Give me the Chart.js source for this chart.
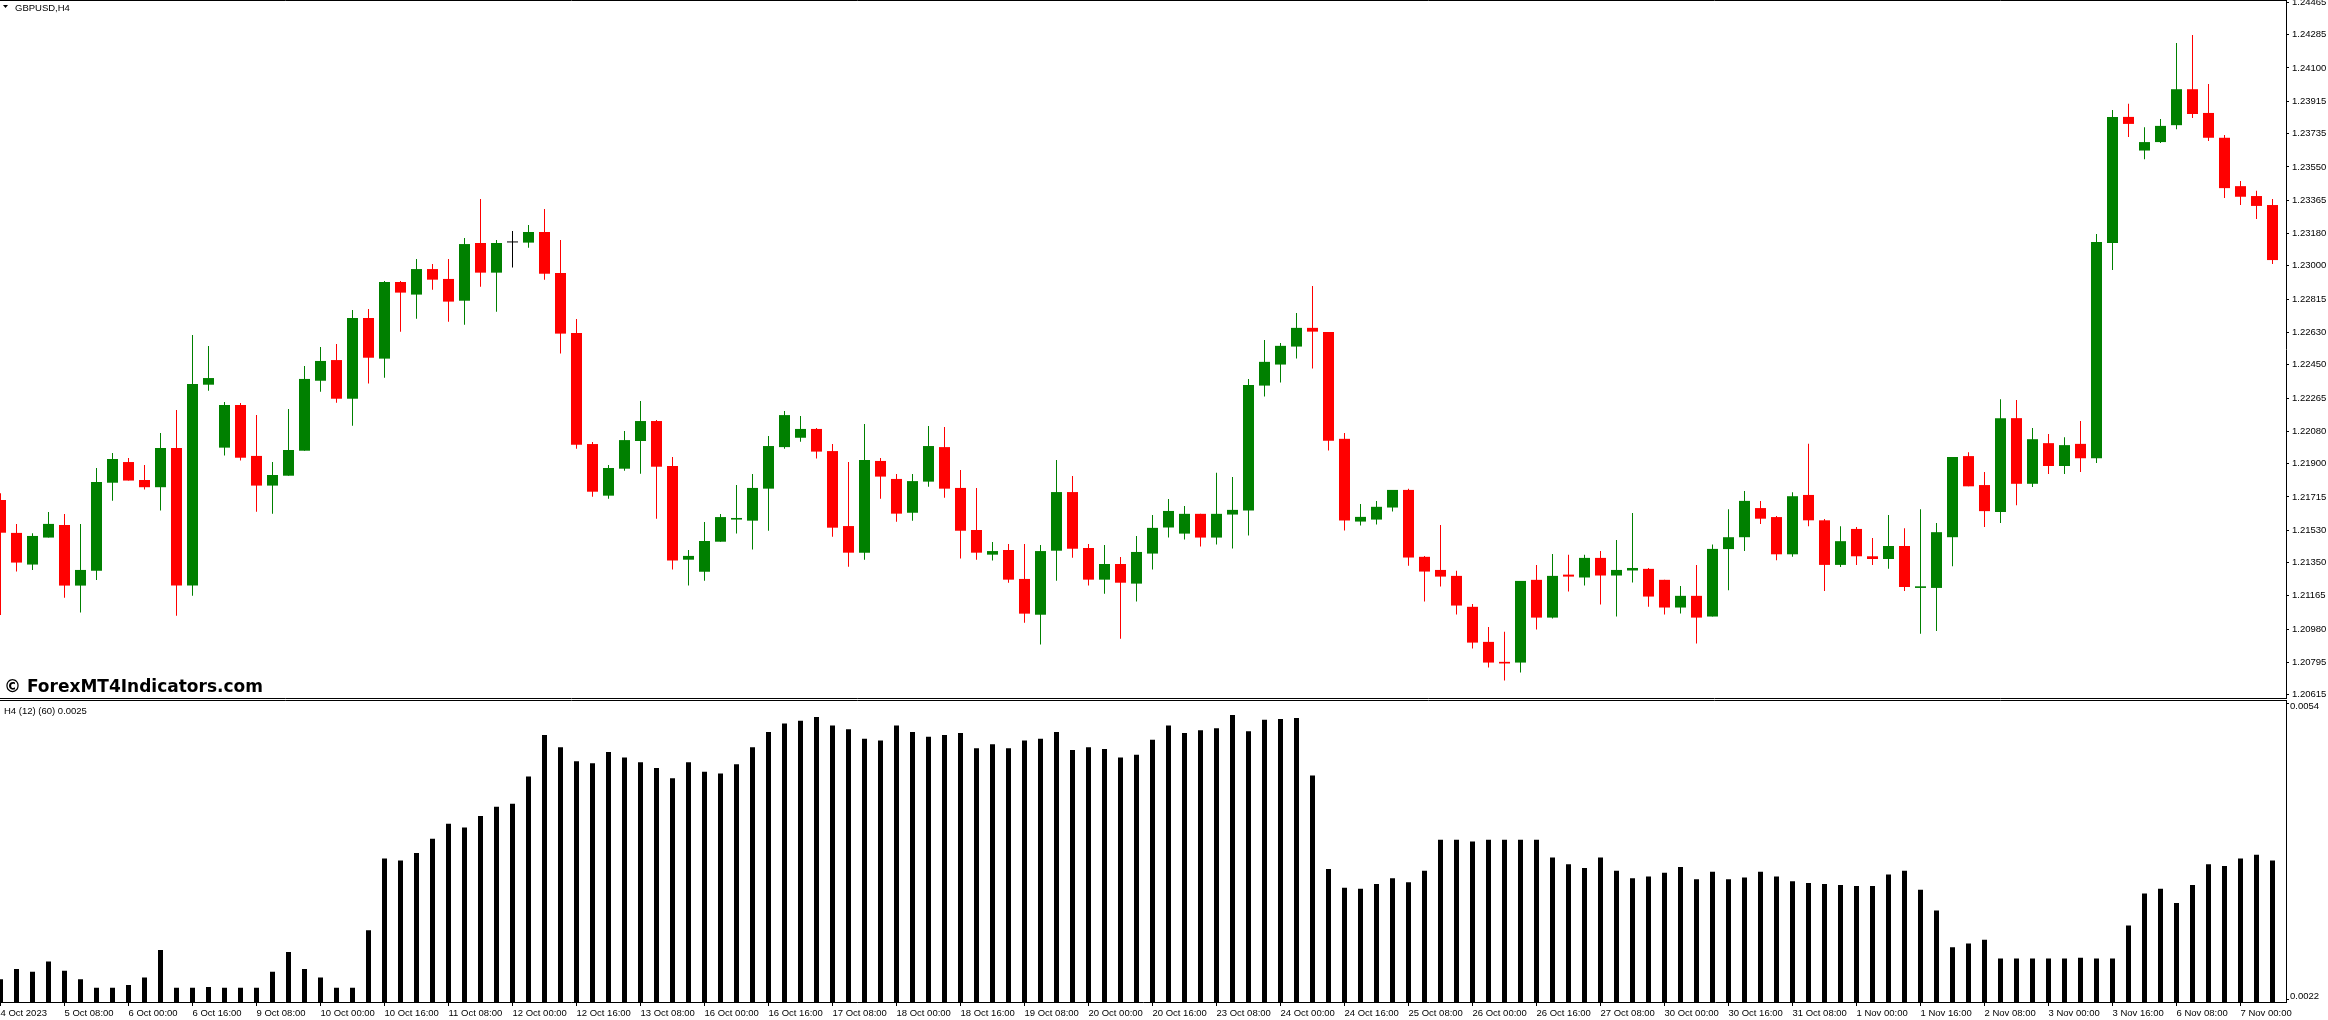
<!DOCTYPE html>
<html>
<head>
<meta charset="utf-8">
<title>GBPUSD,H4</title>
<script src="https://cdn.jsdelivr.net/npm/chart.js@4.4.1/dist/chart.umd.min.js"></script>
<style>
  html, body { margin: 0; padding: 0; background: #fff; overflow: hidden; }
  #price-wrap { position: absolute; left: 0; top: 0; width: 2328px; height: 699px; }
  #atr-wrap { position: absolute; left: 0; top: 699px; width: 2328px; height: 321px; }
</style>
</head>
<body>
<div id="price-wrap"><canvas id="priceChart" width="2328" height="699"></canvas></div>
<div id="atr-wrap"><canvas id="atrChart" width="2328" height="321"></canvas></div>
<script>
'use strict';

// time axis labels, one every 4 bars (H4)
let timeTicks = ['4 Oct 2023', '5 Oct 08:00', '6 Oct 00:00', '6 Oct 16:00', '9 Oct 08:00', '10 Oct 00:00',
  '10 Oct 16:00', '11 Oct 08:00', '12 Oct 00:00', '12 Oct 16:00', '13 Oct 08:00', '16 Oct 00:00',
  '16 Oct 16:00', '17 Oct 08:00', '18 Oct 00:00', '18 Oct 16:00', '19 Oct 08:00', '20 Oct 00:00',
  '20 Oct 16:00', '23 Oct 08:00', '24 Oct 00:00', '24 Oct 16:00', '25 Oct 08:00', '26 Oct 00:00',
  '26 Oct 16:00', '27 Oct 08:00', '30 Oct 00:00', '30 Oct 16:00', '31 Oct 08:00', '1 Nov 00:00',
  '1 Nov 16:00', '2 Nov 08:00', '3 Nov 00:00', '3 Nov 16:00', '6 Nov 08:00', '7 Nov 00:00'];

// price axis labels
let priceTicks = [1.24465, 1.24285, 1.24100, 1.23915, 1.23735, 1.23550, 1.23365, 1.23180, 1.23000,
  1.22815, 1.22630, 1.22450, 1.22265, 1.22080, 1.21900, 1.21715, 1.21530, 1.21350, 1.21165,
  1.20980, 1.20795, 1.20615];

// indicator window min / max
let atrTicks = [0.0022, 0.0054];

// GBPUSD H4 candles
let opens = [
  1.21698, 1.21515, 1.21339, 1.21489, 1.21559, 1.21222, 1.21305, 1.21794, 1.21909, 1.21809,
  1.21769, 1.21987, 1.21222, 1.22339, 1.21989, 1.22226, 1.21943, 1.21778, 1.21833, 1.21972,
  1.22361, 1.22476, 1.22261, 1.22710, 1.22484, 1.22910, 1.22840, 1.22982, 1.22927, 1.22806,
  1.23127, 1.22962, 1.23130, 1.23129, 1.23188, 1.22960, 1.22626, 1.22009, 1.21722, 1.21872,
  1.22026, 1.22137, 1.21887, 1.21366, 1.21299, 1.21466, 1.21589, 1.21583, 1.21761, 1.21992,
  1.22044, 1.22093, 1.21970, 1.21553, 1.21405, 1.21915, 1.21815, 1.21627, 1.21800, 1.21992,
  1.21765, 1.21531, 1.21394, 1.21420, 1.21259, 1.21060, 1.21416, 1.21742, 1.21431, 1.21255,
  1.21342, 1.21233, 1.21400, 1.21545, 1.21511, 1.21621, 1.21489, 1.21617, 1.21639, 1.22334,
  1.22451, 1.22551, 1.22655, 1.22632, 1.22038, 1.21578, 1.21589, 1.21656, 1.21754, 1.21382,
  1.21309, 1.21276, 1.21104, 1.20909, 1.20798, 1.20794, 1.21254, 1.21044, 1.21283, 1.21267,
  1.21376, 1.21278, 1.21306, 1.21315, 1.21254, 1.21100, 1.21165, 1.21050, 1.21425, 1.21491,
  1.21653, 1.21603, 1.21396, 1.21726, 1.21585, 1.21337, 1.21537, 1.21385, 1.21370, 1.21442,
  1.21209, 1.21209, 1.21491, 1.21942, 1.21781, 1.21631, 1.22153, 1.21788, 1.22014, 1.21887,
  1.22010, 1.21930, 1.23127, 1.23828, 1.23641, 1.23688, 1.23782, 1.23982, 1.23850, 1.23712,
  1.23443, 1.23388, 1.23338];

let highs = [
  1.21735, 1.21565, 1.21513, 1.21631, 1.21620, 1.21565, 1.21876, 1.21959, 1.21932, 1.21893,
  1.22071, 1.22198, 1.22615, 1.22554, 1.22243, 1.22237, 1.22171, 1.21909, 1.22204, 1.22443,
  1.22549, 1.22565, 1.22754, 1.22760, 1.22916, 1.22916, 1.23038, 1.23010, 1.23038, 1.23155,
  1.23371, 1.23143, 1.23193, 1.23227, 1.23316, 1.23143, 1.22704, 1.22020, 1.21892, 1.22081,
  1.22248, 1.22143, 1.21937, 1.21420, 1.21576, 1.21620, 1.21781, 1.21842, 1.22054, 1.22193,
  1.22165, 1.22098, 1.22009, 1.21909, 1.22120, 1.21931, 1.21842, 1.21842, 1.22109, 1.22104,
  1.21865, 1.21765, 1.21464, 1.21453, 1.21453, 1.21448, 1.21920, 1.21831, 1.21453, 1.21448,
  1.21381, 1.21498, 1.21615, 1.21704, 1.21665, 1.21621, 1.21849, 1.21826, 1.22371, 1.22588,
  1.22571, 1.22738, 1.22888, 1.22632, 1.22071, 1.21676, 1.21693, 1.21754, 1.21760, 1.21387,
  1.21559, 1.21304, 1.21120, 1.20992, 1.20965, 1.21248, 1.21337, 1.21398, 1.21393, 1.21393,
  1.21415, 1.21476, 1.21626, 1.21320, 1.21254, 1.21220, 1.21337, 1.21450, 1.21647, 1.21748,
  1.21693, 1.21609, 1.21741, 1.22010, 1.21592, 1.21552, 1.21548, 1.21486, 1.21614, 1.21541,
  1.21647, 1.21570, 1.21937, 1.21964, 1.21854, 1.22258, 1.22254, 1.22098, 1.22065, 1.22047,
  1.22137, 1.23177, 1.23866, 1.23901, 1.23771, 1.23817, 1.24239, 1.24283, 1.24011, 1.23727,
  1.23472, 1.23417, 1.23371];

let lows = [
  1.21059, 1.21300, 1.21309, 1.21489, 1.21155, 1.21072, 1.21253, 1.21694, 1.21806, 1.21756,
  1.21639, 1.21055, 1.21166, 1.22306, 1.21945, 1.21917, 1.21633, 1.21622, 1.21833, 1.21972,
  1.22300, 1.22239, 1.22111, 1.22345, 1.22378, 1.22634, 1.22706, 1.22867, 1.22689, 1.22673,
  1.22884, 1.22745, 1.22990, 1.23101, 1.22923, 1.22512, 1.21983, 1.21716, 1.21705, 1.21861,
  1.21844, 1.21594, 1.21311, 1.21222, 1.21249, 1.21466, 1.21511, 1.21422, 1.21527, 1.21983,
  1.22022, 1.21928, 1.21494, 1.21327, 1.21366, 1.21705, 1.21577, 1.21583, 1.21772, 1.21711,
  1.21372, 1.21366, 1.21361, 1.21238, 1.21016, 1.20894, 1.21249, 1.21377, 1.21222, 1.21177,
  1.20927, 1.21133, 1.21311, 1.21489, 1.21478, 1.21439, 1.21450, 1.21428, 1.21500, 1.22273,
  1.22351, 1.22484, 1.22429, 1.21973, 1.21528, 1.21556, 1.21561, 1.21634, 1.21333, 1.21133,
  1.21217, 1.21061, 1.20872, 1.20766, 1.20694, 1.20739, 1.20978, 1.21039, 1.21189, 1.21222,
  1.21117, 1.21050, 1.21239, 1.21105, 1.21061, 1.21067, 1.20900, 1.21050, 1.21196, 1.21414,
  1.21565, 1.21363, 1.21383, 1.21552, 1.21192, 1.21326, 1.21337, 1.21337, 1.21315, 1.21192,
  1.20954, 1.20970, 1.21330, 1.21774, 1.21548, 1.21570, 1.21669, 1.21770, 1.21843, 1.21843,
  1.21854, 1.21904, 1.22977, 1.23716, 1.23593, 1.23683, 1.23760, 1.23822, 1.23694, 1.23377,
  1.23338, 1.23261, 1.23010];

let closes = [
  1.21516, 1.21350, 1.21498, 1.21565, 1.21222, 1.21309, 1.21798, 1.21926, 1.21806, 1.21769,
  1.21987, 1.21222, 1.22343, 1.22376, 1.22226, 1.21933, 1.21778, 1.21837, 1.21976, 1.22371,
  1.22471, 1.22261, 1.22710, 1.22489, 1.22910, 1.22851, 1.22982, 1.22923, 1.22801, 1.23121,
  1.22962, 1.23127, 1.23130, 1.23188, 1.22956, 1.22623, 1.22005, 1.21744, 1.21876, 1.22031,
  1.22137, 1.21883, 1.21361, 1.21387, 1.21470, 1.21603, 1.21598, 1.21765, 1.21998, 1.22170,
  1.22093, 1.21967, 1.21544, 1.21405, 1.21920, 1.21828, 1.21622, 1.21803, 1.21998, 1.21761,
  1.21527, 1.21405, 1.21414, 1.21255, 1.21066, 1.21414, 1.21742, 1.21427, 1.21255, 1.21342,
  1.21238, 1.21409, 1.21543, 1.21637, 1.21621, 1.21489, 1.21621, 1.21643, 1.22338, 1.22466,
  1.22555, 1.22655, 1.22634, 1.22028, 1.21584, 1.21604, 1.21660, 1.21754, 1.21378, 1.21300,
  1.21272, 1.21111, 1.20905, 1.20794, 1.20789, 1.21248, 1.21044, 1.21276, 1.21272, 1.21376,
  1.21278, 1.21309, 1.21320, 1.21161, 1.21100, 1.21165, 1.21044, 1.21426, 1.21491, 1.21693,
  1.21594, 1.21396, 1.21719, 1.21585, 1.21337, 1.21469, 1.21385, 1.21370, 1.21442, 1.21214,
  1.21218, 1.21519, 1.21937, 1.21774, 1.21636, 1.22153, 1.21788, 1.22036, 1.21887, 1.22003,
  1.21930, 1.23133, 1.23828, 1.23789, 1.23688, 1.23778, 1.23982, 1.23844, 1.23712, 1.23432,
  1.23384, 1.23333, 1.23032];

// indicator histogram "H4 (12) (60) 0.0025"
let atrValues = [
  0.00244, 0.00255, 0.00252, 0.00263, 0.00253, 0.00244, 0.00235, 0.00235, 0.00238, 0.00246,
  0.00275, 0.00235, 0.00235, 0.00236, 0.00235, 0.00235, 0.00235, 0.00252, 0.00273, 0.00255,
  0.00246, 0.00235, 0.00235, 0.00296, 0.00372, 0.00370, 0.00378, 0.00393, 0.00409, 0.00405,
  0.00417, 0.00427, 0.00430, 0.00459, 0.00503, 0.00490, 0.00475, 0.00473, 0.00485, 0.00479,
  0.00474, 0.00468, 0.00457, 0.00474, 0.00464, 0.00462, 0.00472, 0.00490, 0.00506, 0.00515,
  0.00518, 0.00522, 0.00513, 0.00509, 0.00499, 0.00497, 0.00513, 0.00506, 0.00501, 0.00503,
  0.00505, 0.00489, 0.00493, 0.00489, 0.00497, 0.00499, 0.00506, 0.00487, 0.00490, 0.00488,
  0.00479, 0.00482, 0.00498, 0.00513, 0.00505, 0.00508, 0.00510, 0.00524, 0.00507, 0.00519,
  0.00520, 0.00521, 0.00460, 0.00361, 0.00341, 0.00340, 0.00345, 0.00351, 0.00347, 0.00359,
  0.00392, 0.00392, 0.00390, 0.00392, 0.00392, 0.00392, 0.00392, 0.00373, 0.00366, 0.00362,
  0.00373, 0.00359, 0.00351, 0.00353, 0.00357, 0.00363, 0.00350, 0.00358, 0.00350, 0.00352,
  0.00358, 0.00353, 0.00348, 0.00346, 0.00345, 0.00344, 0.00343, 0.00343, 0.00355, 0.00359,
  0.00339, 0.00317, 0.00278, 0.00282, 0.00286, 0.00266, 0.00266, 0.00266, 0.00266, 0.00266,
  0.00267, 0.00266, 0.00266, 0.00301, 0.00335, 0.00340, 0.00325, 0.00344, 0.00366, 0.00364,
  0.00372, 0.00376, 0.00370];

// styles
let bullColor = '#008000';
let bearColor = '#ff0000';
let dojiColor = '#000000';
let axisFont = { family: '"Liberation Sans", Arial, sans-serif', size: 9.5 };
let smallFont = '9.5px "Liberation Sans", Arial, sans-serif';

// layout: 16 px per bar, plot ends at x=2286, axis strip on the right
let pxPerBar = 16;
let plotRight = 2286;
let axisWidth = 2328 - plotRight;
let xMin = -0.5 / pxPerBar; // bar centres land on half pixels
let xMax = xMin + plotRight / pxPerBar;

// price window: top of plot at 1.24478, 17985 px per 1.0 of price
let priceMax = 1.24478;
let priceMin = priceMax - 698 / 17985;

let candleColors = opens.map(function (o, i) {
  if (closes[i] > o) return bullColor;
  if (closes[i] < o) return bearColor;
  return dojiColor;
});

let bodies = opens.map((o, i) => ({ x: i, y: [o, closes[i]] }));
let wicks = lows.map((l, i) => ({ x: i, y: [l, highs[i]] }));
let atrBars = atrValues.map((v, i) => ({ x: i, y: v }));

// frame lines + header texts of the price window
let priceDecor = {
  id: 'priceDecor',
  afterDraw(chart) {
    let ctx = chart.ctx;
    let area = chart.chartArea;
    ctx.save();
    ctx.strokeStyle = '#000';
    ctx.lineWidth = 1;
    ctx.beginPath();
    ctx.moveTo(0, 0.5);
    ctx.lineTo(area.right, 0.5);
    ctx.moveTo(0, area.bottom + 0.5);
    ctx.lineTo(area.right, area.bottom + 0.5);
    ctx.stroke();

    // little drop-down triangle
    ctx.fillStyle = '#000';
    ctx.beginPath();
    ctx.moveTo(3, 5);
    ctx.lineTo(8, 5);
    ctx.lineTo(5.5, 8);
    ctx.closePath();
    ctx.fill();

    ctx.font = smallFont;
    ctx.textBaseline = 'alphabetic';
    ctx.fillText('GBPUSD,H4', 15, 11);

    ctx.font = 'bold 17px "DejaVu Sans", Verdana, sans-serif';
    ctx.fillText('\u00A9 ForexMT4Indicators.com', 4, 692);
    ctx.restore();
  }
};

// frame line, title and min/max labels of the indicator window
let atrDecor = {
  id: 'atrDecor',
  afterDraw(chart) {
    let ctx = chart.ctx;
    let area = chart.chartArea;
    let y = chart.scales.y;
    ctx.save();
    ctx.strokeStyle = '#000';
    ctx.lineWidth = 1;
    ctx.beginPath();
    ctx.moveTo(0, area.top + 0.5);
    ctx.lineTo(area.right, area.top + 0.5);
    ctx.stroke();

    ctx.fillStyle = '#000';
    ctx.font = smallFont;
    ctx.textBaseline = 'alphabetic';
    ctx.fillText('H4 (12) (60) 0.0025', 4, 15);

    let topY = y.getPixelForValue(atrTicks[1]);
    let botY = y.getPixelForValue(atrTicks[0]);
    ctx.textBaseline = 'top';
    ctx.fillText(atrTicks[1].toFixed(4), area.right + 4, topY + 2);
    ctx.textBaseline = 'bottom';
    ctx.fillText(atrTicks[0].toFixed(4), area.right + 4, botY - 1);
    ctx.beginPath();
    ctx.moveTo(area.right, topY + 3.5);
    ctx.lineTo(area.right + 3, topY + 3.5);
    ctx.moveTo(area.right, botY - 2.5);
    ctx.lineTo(area.right + 3, botY - 2.5);
    ctx.stroke();
    ctx.restore();
  }
};

let priceCtx = document.getElementById('priceChart').getContext('2d');
let atrCtx = document.getElementById('atrChart').getContext('2d');

new Chart(priceCtx, {
  type: 'bar',
  data: {
    datasets: [
      {
        label: 'body',
        data: bodies,
        backgroundColor: candleColors,
        barThickness: 11,
        minBarLength: 1,
        grouped: false,
        inflateAmount: 0,
        order: 0
      },
      {
        label: 'wick',
        data: wicks,
        backgroundColor: candleColors,
        barThickness: 1,
        grouped: false,
        inflateAmount: 0,
        order: 1
      }
    ]
  },
  options: {
    responsive: false,
    animation: false,
    devicePixelRatio: 1,
    layout: { padding: { top: 0, left: 0, right: 0, bottom: 1 } },
    plugins: { legend: { display: false }, tooltip: { enabled: false } },
    scales: {
      x: { type: 'linear', min: xMin, max: xMax, offset: false, grid: { offset: false }, display: false },
      y: {
        position: 'right',
        min: priceMin,
        max: priceMax,
        afterBuildTicks: (scale) => { scale.ticks = priceTicks.map(v => ({ value: v })); },
        afterFit: (scale) => { scale.width = axisWidth; scale.paddingTop = 0; scale.paddingBottom = 0; },
        ticks: { callback: (v) => Number(v).toFixed(5), font: axisFont, color: '#000', padding: 3 },
        grid: { drawOnChartArea: false, tickLength: 3, color: '#000' },
        border: { display: true, color: '#000' }
      }
    }
  },
  plugins: [priceDecor]
});

new Chart(atrCtx, {
  type: 'bar',
  data: {
    datasets: [{
      label: 'H4 (12) (60) 0.0025',
      data: atrBars,
      backgroundColor: '#000',
      barThickness: 5,
      inflateAmount: 0,
      clip: 0
    }]
  },
  options: {
    responsive: false,
    animation: false,
    devicePixelRatio: 1,
    layout: { padding: { top: 1, left: 0, right: 0, bottom: 0 } },
    plugins: { legend: { display: false }, tooltip: { enabled: false } },
    scales: {
      x: {
        type: 'linear',
        min: xMin,
        max: xMax,
        offset: false,
        position: 'bottom',
        afterBuildTicks: (scale) => { scale.ticks = timeTicks.map((t, k) => ({ value: k * 4 })); },
        afterFit: (scale) => { scale.height = 18; scale.paddingLeft = 0; scale.paddingRight = 0; },
        ticks: {
          callback: (v, index) => timeTicks[index],
          align: 'start',
          maxRotation: 0,
          minRotation: 0,
          autoSkip: false,
          font: axisFont,
          color: '#000',
          padding: 2
        },
        grid: { drawOnChartArea: false, offset: false, tickLength: 4, color: '#000' },
        border: { display: true, color: '#000' }
      },
      y: {
        position: 'right',
        min: atrTicks[0],
        max: atrTicks[1],
        afterBuildTicks: (scale) => { scale.ticks = atrTicks.map(v => ({ value: v })); },
        afterFit: (scale) => { scale.width = axisWidth; scale.paddingTop = 0; scale.paddingBottom = 0; },
        ticks: { display: false },
        grid: { display: false },
        border: { display: true, color: '#000' }
      }
    }
  },
  plugins: [atrDecor]
});
</script>
</body>
</html>
